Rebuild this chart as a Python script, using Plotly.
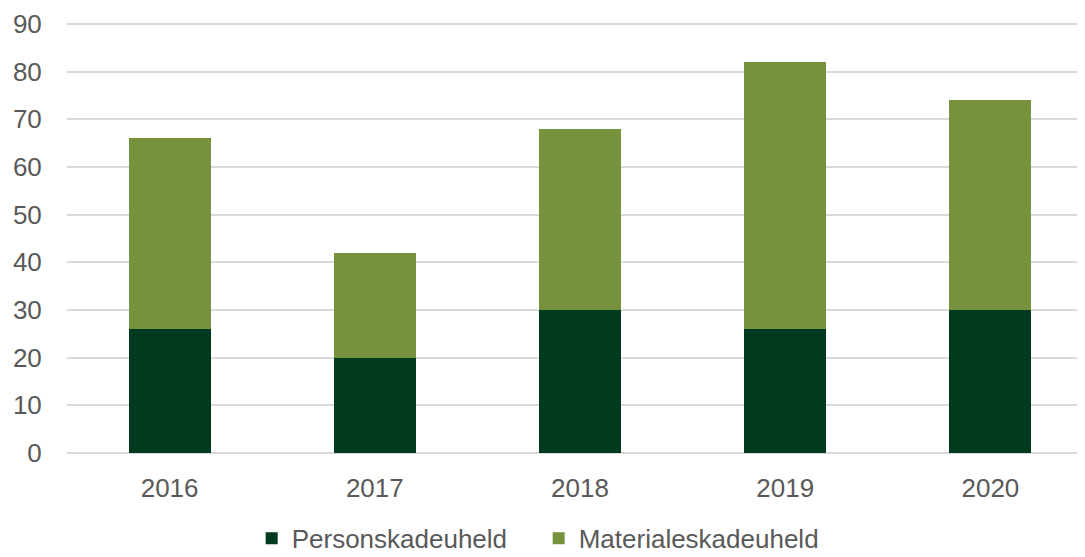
import plotly.graph_objects as go

years = ["2016", "2017", "2018", "2019", "2020"]
person = [26, 20, 30, 26, 30]
materiale = [40, 22, 38, 56, 44]
y_ticks = [0, 10, 20, 30, 40, 50, 60, 70, 80, 90]

fig = go.Figure()
fig.add_trace(go.Bar(x=years, y=person, name="Personskadeuheld", marker=dict(color="#003a1f", line=dict(width=0))))
fig.add_trace(go.Bar(x=years, y=materiale, name="Materialeskadeuheld", marker=dict(color="#76923c", line=dict(width=0))))

font = dict(family="Liberation Sans, Arial, sans-serif", size=26, color="#595959")
fig.update_layout(
    barmode="stack",
    bargap=0.6,
    width=1085, height=557,
    margin=dict(l=59, r=0, t=14, b=112, autoexpand=False),
    paper_bgcolor="white", plot_bgcolor="white",
    font=font,
    showlegend=True,
    legend=dict(orientation="h", x=0.18, xanchor="left", y=-0.198, yanchor="middle",
                font=font, traceorder="normal", itemwidth=30,
                entrywidth=242, entrywidthmode="pixels"),
    xaxis=dict(showgrid=False, showline=False, ticks="outside", ticklen=12,
               tickcolor="rgba(0,0,0,0)", tickfont=font, automargin=False),
    yaxis=dict(range=[0, 90.4], tickvals=y_ticks, showgrid=True, gridcolor="#d9d9d9",
               gridwidth=1.5, zeroline=True, zerolinecolor="#d9d9d9", zerolinewidth=1.5,
               ticks="outside", ticklen=19, tickcolor="rgba(0,0,0,0)", tickfont=font,
               automargin=False),
)
fig.write_html("out.html")
